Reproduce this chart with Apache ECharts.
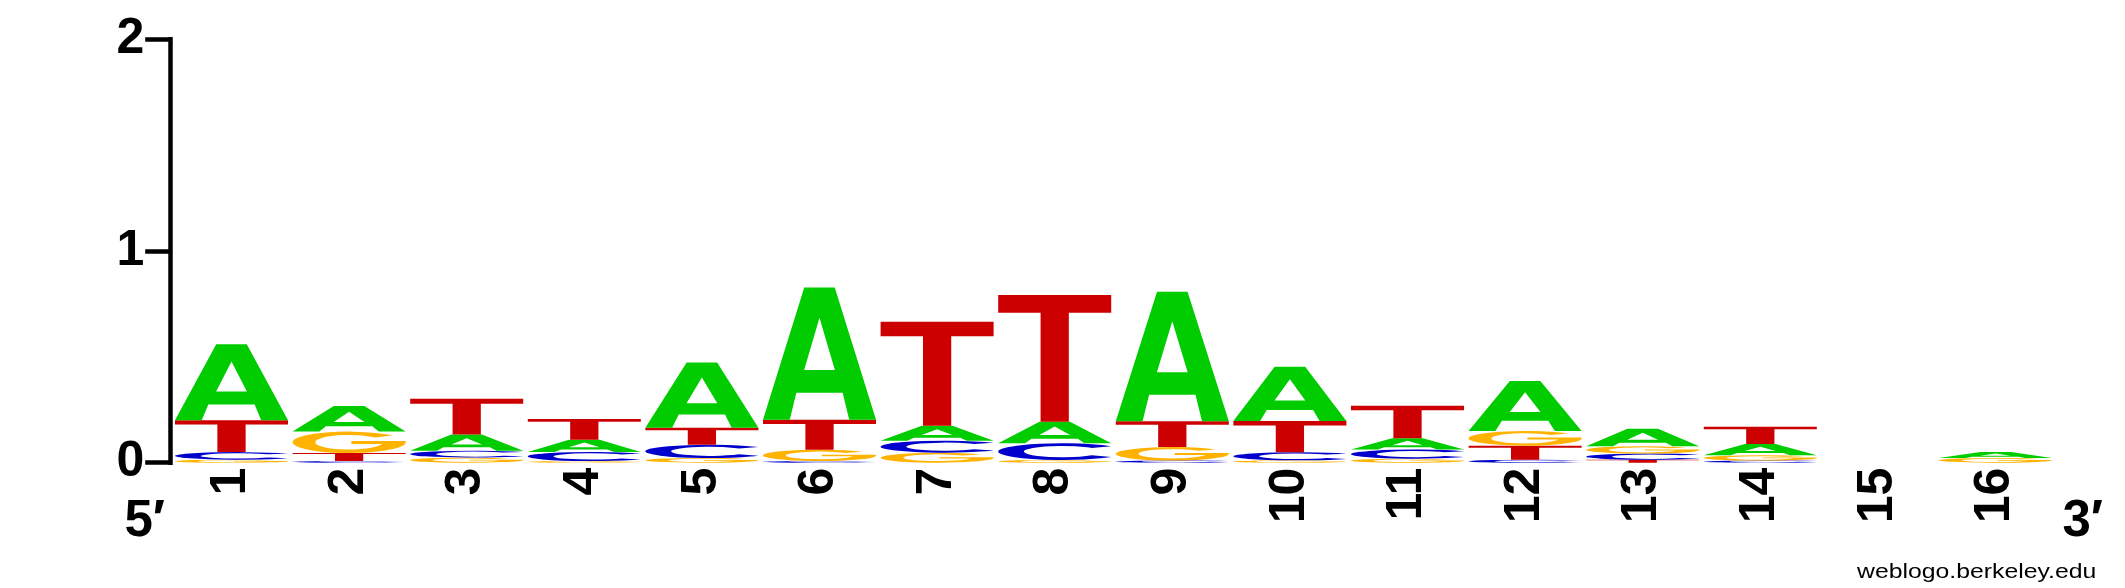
<!DOCTYPE html>
<html>
<head>
<meta charset="utf-8">
<script src="https://cdn.jsdelivr.net/npm/echarts@6/dist/echarts.min.js"></script>
<style>
  html, body { margin: 0; padding: 0; background: #fff; }
  #chart { width: 2125px; height: 588px; }
</style>
</head>
<body>
<div id="chart"></div>
<script>
// ---- data (bits per nucleotide at each position) ----
const positions = ['1','2','3','4','5','6','7','8','9','10','11','12','13','14','15','16'];
const bitsA = [0.359, 0.121, 0.076, 0.057, 0.308, 0.624, 0.070, 0.102, 0.612, 0.256, 0.054, 0.236, 0.082, 0.053, 0, 0.028];
const bitsC = [0.036, 0.008, 0.033, 0.043, 0.063, 0.008, 0.057, 0.079, 0.010, 0.038, 0.043, 0.014, 0.029, 0.010, 0, 0];
const bitsG = [0.014, 0.101, 0.024, 0.008, 0.022, 0.053, 0.047, 0.013, 0.064, 0.011, 0.019, 0.070, 0.035, 0.025, 0, 0.022];
const bitsT = [0.151, 0.038, 0.169, 0.099, 0.080, 0.142, 0.492, 0.598, 0.122, 0.148, 0.153, 0.066, 0.014, 0.082, 0, 0];
const yTickValues = [0, 1, 2];
const endLabels = ['5\u2032', '3\u2032'];
const creditText = 'weblogo.berkeley.edu';

// ---- glyph outlines (unit box, width w, height 100) ----
const GLYPHS = {
  A: { w: 100, d: 'M0 100 L36.5 0 L63.5 0 L100 100 L76.3 100 L70.5 79.5 L29.5 79.5 L23.7 100 Z M50 22.8 L36.4 62.3 L63.6 62.3 Z' },
  T: { w: 100, d: 'M0 0 L100 0 L100 14 L62.5 14 L62.5 100 L37.5 100 L37.5 14 L0 14 Z' },
  C: { w: 88.3, d: 'M88.3 17.9 A50 50 0 1 0 88.3 82.1 L73 71.9 A30 34 0 1 1 73 28.1 Z' },
  G: { w: 100, d: 'M88.3 17.9 A50 50 0 1 0 100 50 L100 44 L52 44 L52 58 L79.2 58 A30 34 0 1 1 73 28.1 Z' }
};
const COLORS = { A: '#00CC00', C: '#0000CC', G: '#FFB300', T: '#CC0000' };

const seriesData = positions.map((p, i) => [i, bitsA[i], bitsC[i], bitsG[i], bitsT[i]]);

function renderItem(params, api) {
  const idx = api.value(0);
  const letters = [
    { k: 'A', v: api.value(1) },
    { k: 'C', v: api.value(2) },
    { k: 'G', v: api.value(3) },
    { k: 'T', v: api.value(4) }
  ].filter(l => l.v > 0).sort((a, b) => a.v - b.v);
  const band = api.size([1, 0])[0];
  const w = band * 0.961;
  const cx = api.coord([idx, 0])[0];
  const left = cx - w / 2;
  let base = 0;
  const children = [];
  letters.forEach(l => {
    const yb = api.coord([idx, base])[1];
    const yt = api.coord([idx, base + l.v])[1];
    base += l.v;
    const h = yb - yt;
    const g = GLYPHS[l.k];
    children.push({
      type: 'path',
      shape: { pathData: g.d },
      x: left,
      y: yt,
      scaleX: w / g.w,
      scaleY: h / 100,
      style: { fill: COLORS[l.k], stroke: null }
    });
  });
  return { type: 'group', children };
}

const chart = echarts.init(document.getElementById('chart'), null, { renderer: 'canvas' });
const FONT = '"Liberation Sans", Arial, Helvetica, sans-serif';

chart.setOption({
  animation: false,
  backgroundColor: '#ffffff',
  grid: { left: 172.7, right: 70.7, top: 39.3, bottom: 125.3, containLabel: false },
  xAxis: {
    type: 'category',
    data: positions,
    boundaryGap: true,
    axisLine: { show: false },
    axisTick: { show: false },
    splitLine: { show: false },
    axisLabel: {
      interval: 0,
      rotate: 90,
      margin: 5,
      color: '#000',
      fontSize: 50,
      fontWeight: 'bold',
      fontFamily: FONT
    }
  },
  yAxis: {
    type: 'value',
    min: yTickValues[0],
    max: yTickValues[yTickValues.length - 1],
    interval: 1,
    offset: 2.5,
    axisLine: { show: true, lineStyle: { color: '#000', width: 4.5, cap: 'square' } },
    axisTick: { show: true, length: 25, lineStyle: { color: '#000', width: 4.5 } },
    splitLine: { show: false },
    axisLabel: {
      margin: 26,
      color: '#000',
      fontSize: 50,
      fontWeight: 'bold',
      fontFamily: FONT
    }
  },
  series: [{
    type: 'custom',
    renderItem: renderItem,
    data: seriesData,
    encode: { x: 0, y: 1 },
    clip: false,
    silent: true
  }],
  graphic: [
    {
      type: 'text', x: 124.5, y: 522, silent: true,
      style: { text: endLabels[0], fill: '#000', font: 'bold 51px ' + FONT, align: 'left', verticalAlign: 'middle' }
    },
    {
      type: 'text', x: 2062.5, y: 522, silent: true,
      style: { text: endLabels[1], fill: '#000', font: 'bold 51px ' + FONT, align: 'left', verticalAlign: 'middle' }
    },
    {
      type: 'text', x: 1857, y: 571.8, scaleX: 1.18, silent: true,
      style: { text: creditText, fill: '#000', font: '21px ' + FONT, align: 'left', verticalAlign: 'middle' }
    }
  ]
});
</script>
</body>
</html>
